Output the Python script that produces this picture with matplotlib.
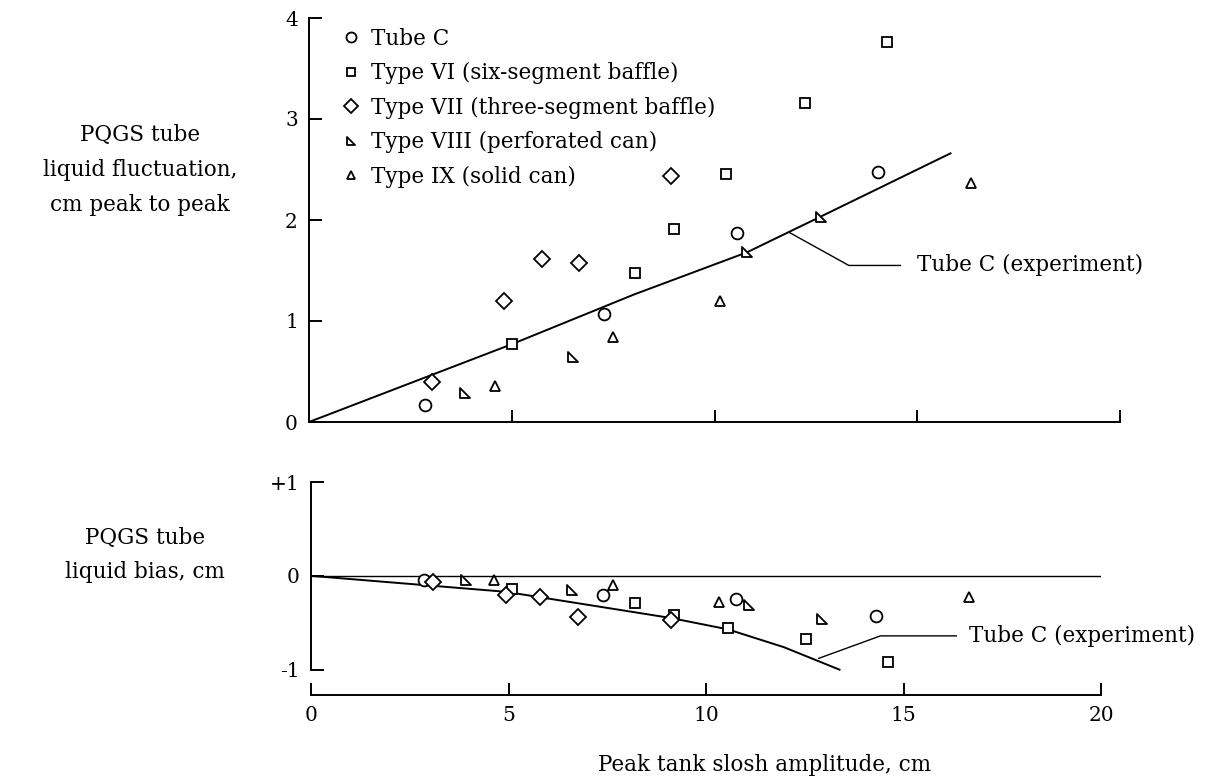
import matplotlib
matplotlib.use("Agg")
import matplotlib.pyplot as plt
from matplotlib.path import Path

plt.rcParams['font.family'] = ['DejaVu Serif']
plt.rcParams['font.size'] = 14.5

# right-angle triangle marker (Type VIII)
rtri = Path([(-1, 1), (-1, -1), (1, -1), (-1, 1)],
            [Path.MOVETO, Path.LINETO, Path.LINETO, Path.CLOSEPOLY])

# ---- fluctuation data (top panel) ----
tubec_x = [2.85, 7.28, 10.55, 14.03]
tubec_y = [0.17, 1.07, 1.87, 2.48]
vi_x = [5.0, 8.03, 9.0, 10.28, 12.22, 14.25]
vi_y = [0.77, 1.48, 1.91, 2.46, 3.16, 3.76]
vii_x = [3.04, 4.81, 5.74, 6.66, 8.93]
vii_y = [0.40, 1.2, 1.61, 1.57, 2.44]
viii_x = [3.85, 6.52, 10.81, 12.62]
viii_y = [0.29, 0.64, 1.68, 2.03]
ix_x = [4.58, 7.5, 10.13, 16.32]
ix_y = [0.36, 0.84, 1.2, 2.37]
fit_x = [0, 5.0, 8.0, 10.8, 12.6, 15.82]
fit_y = [0, 0.77, 1.26, 1.68, 2.03, 2.66]

# ---- bias data (bottom panel) ----
b_tubec_x = [2.86, 7.4, 10.75, 14.31]
b_tubec_y = [-0.04, -0.2, -0.25, -0.43]
b_vi_x = [5.08, 8.21, 9.2, 10.55, 12.54, 14.6]
b_vi_y = [-0.14, -0.29, -0.42, -0.56, -0.67, -0.92]
b_vii_x = [3.1, 4.93, 5.8, 6.77, 9.12]
b_vii_y = [-0.07, -0.2, -0.23, -0.44, -0.47]
b_viii_x = [3.92, 6.62, 11.09, 12.93]
b_viii_y = [-0.04, -0.15, -0.31, -0.46]
b_ix_x = [4.64, 7.64, 10.34, 16.66]
b_ix_y = [-0.04, -0.1, -0.28, -0.23]
b_fit_x = [0, 4.93, 9.12, 10.55, 11.97, 13.38]
b_fit_y = [0, -0.17, -0.45, -0.57, -0.76, -1.0]

labels = ['Tube C', 'Type VI (six-segment baffle)', 'Type VII (three-segment baffle)',
          'Type VIII (perforated can)', 'Type IX (solid can)']
markers = ['o', 's', 'D', rtri, '^']
msizes = [8.5, 7.5, 8.5, 7, 7.5]

fig = plt.figure(figsize=(12.16, 7.79), dpi=100)
ax1 = fig.add_axes([309 / 1216, (779 - 422) / 779, 811 / 1216, 404 / 779])
ax2 = fig.add_axes([311 / 1216, (779 - 695) / 779, 790 / 1216, 213 / 779])

top_sets = [(tubec_x, tubec_y), (vi_x, vi_y), (vii_x, vii_y), (viii_x, viii_y), (ix_x, ix_y)]
bot_sets = [(b_tubec_x, b_tubec_y), (b_vi_x, b_vi_y), (b_vii_x, b_vii_y),
            (b_viii_x, b_viii_y), (b_ix_x, b_ix_y)]

for (x, y), m, ms, lab in zip(top_sets, markers, msizes, labels):
    ax1.plot(x, y, linestyle='none', marker=m, ms=ms, mfc='white', mec='black',
             mew=1.3, label=lab, zorder=3)
ax1.plot(fit_x, fit_y, color='black', lw=1.4, zorder=2)

for (x, y), m, ms in zip(bot_sets, markers, msizes):
    ax2.plot(x, y, linestyle='none', marker=m, ms=ms, mfc='white', mec='black',
             mew=1.3, zorder=3)
ax2.plot(b_fit_x, b_fit_y, color='black', lw=1.4, zorder=2)
ax2.axhline(0, color='black', lw=1.0, zorder=1)

# top axes styling
ax1.set_xlim(0, 20)
ax1.set_ylim(0, 4)
ax1.set_yticks([0, 1, 2, 3, 4])
ax1.set_xticks([5, 10, 15, 20])
ax1.set_xticklabels([])
for s in ['top', 'right']:
    ax1.spines[s].set_visible(False)
for s in ['left', 'bottom']:
    ax1.spines[s].set_linewidth(1.4)
ax1.tick_params(direction='in', length=9, width=1.4, pad=8, labelsize=14.5)

# bottom axes styling
ax2.set_xlim(0, 20)
ax2.set_ylim(-1.27, 1.0)
ax2.set_yticks([-1, 0, 1])
ax2.set_yticklabels(['-1', '0', '+1'])
ax2.set_xticks([0, 5, 10, 15, 20])
ax2.spines['left'].set_bounds(-1, 1)
for s in ['top', 'right']:
    ax2.spines[s].set_visible(False)
for s in ['left', 'bottom']:
    ax2.spines[s].set_linewidth(1.4)
ax2.tick_params(direction='in', length=9, width=1.4, pad=8, labelsize=14.5)

leg = ax1.legend(loc='upper left', bbox_to_anchor=(0.039, 0.976), frameon=False,
                 handletextpad=0.4, labelspacing=0.58, handlelength=1.0,
                 borderaxespad=0, borderpad=0, markerscale=0.85, fontsize=15.5)

ax1.annotate('Tube C (experiment)', xy=(11.83, 1.88), xytext=(15.0, 1.55),
             va='center', ha='left', fontsize=15.5,
             arrowprops=dict(arrowstyle='-', lw=1.0, color='black', shrinkA=10, shrinkB=0,
                             connectionstyle='angle,angleA=0,angleB=-29'))
ax2.annotate('Tube C (experiment)', xy=(12.85, -0.88), xytext=(16.66, -0.64),
             va='center', ha='left', fontsize=15.5,
             arrowprops=dict(arrowstyle='-', lw=1.0, color='black', shrinkA=7, shrinkB=0,
                             connectionstyle='angle,angleA=0,angleB=20'))

fig.text(140 / 1216, 1 - 170 / 779, 'PQGS tube\nliquid fluctuation,\ncm peak to peak',
         ha='center', va='center', linespacing=1.75, fontsize=15.5)
fig.text(145 / 1216, 1 - 555 / 779, 'PQGS tube\nliquid bias, cm',
         ha='center', va='center', linespacing=1.65, fontsize=15.5)
fig.text(598 / 1216, 1 - 765 / 779, 'Peak tank slosh amplitude, cm', ha='left', va='center',
         fontsize=15.5)

fig.savefig('out.png', dpi=100)
